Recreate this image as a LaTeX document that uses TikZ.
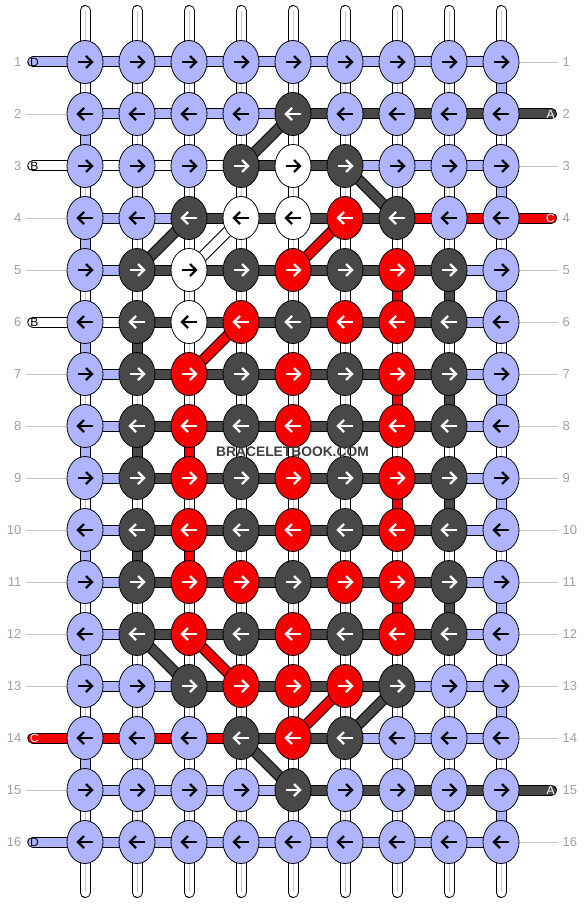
\documentclass[tikz,border=0pt]{standalone}
\usepackage{fontspec}
\setmainfont{Liberation Sans}
\usetikzlibrary{shapes.geometric}
\definecolor{L}{HTML}{AFB4FF}
\definecolor{D}{HTML}{484848}
\definecolor{R}{HTML}{F80000}
\definecolor{W}{HTML}{FFFFFF}
\colorlet{aL}{black}\colorlet{aW}{black}\colorlet{aD}{white}\colorlet{aR}{white}
\definecolor{lblgray}{HTML}{A0A0A0}
\definecolor{linegray}{HTML}{C4C4C4}
\definecolor{wmgray}{HTML}{404040}
\begin{document}
\begin{tikzpicture}[x=1pt,y=-1pt,
 bar/.style={line width=1pt, draw=black, double=#1, double distance=9pt},
 knot/.style={ellipse, draw=black, line width=0.8pt, fill=#1, minimum width=36pt, minimum height=43pt, inner sep=0pt},
 arr/.style={line width=2.4pt, draw=#1, line cap=butt, line join=miter},
 rownum/.style={font=\fontsize{13}{13}\selectfont, text=lblgray, inner sep=0pt},
 stubtxt/.style={font=\fontsize{12}{12}\selectfont, inner sep=0pt},
 guide/.style={draw=linegray, line width=0.8pt},
]
\useasboundingbox[fill=white] (0,0) rectangle (584,904);
% knot centres
\foreach \r in {1,...,16} \foreach \c in {1,...,9} {
  \coordinate (p-\r-\c) at ({85+52*(\c-1)},{62+52*(\r-1)});
}
% vertical white strings
\foreach \c in {1,...,9} {
  \coordinate (t-\c) at ({85+52*(\c-1)},10.5);
  \coordinate (b-\c) at ({85+52*(\c-1)},892.5);
  \draw[bar=white, line cap=round] (t-\c) -- (b-\c);
  \draw[linegray, line width=1pt, shorten <=1pt, shorten >=1pt] (t-\c) -- (b-\c);
}
% horizontal bars
\foreach \r/\hs in {1/{L,L,L,L,L,L,L,L}, 2/{L,L,L,L,D,D,D,D}, 3/{W,W,W,D,D,L,L,L},
  4/{L,L,D,D,D,D,R,R}, 5/{L,D,D,D,D,D,D,L}, 6/{W,D,D,D,D,D,D,L},
  7/{L,D,D,D,D,D,D,L}, 8/{L,D,D,D,D,D,D,L}, 9/{L,D,D,D,D,D,D,L},
  10/{L,D,D,D,D,D,D,L}, 11/{L,D,D,D,D,D,D,L}, 12/{L,D,D,D,D,D,D,L},
  13/{L,L,D,D,D,D,L,L}, 14/{R,R,R,D,D,L,L,L}, 15/{L,L,L,L,D,D,D,D},
  16/{L,L,L,L,L,L,L,L}} {
  \foreach \h [count=\c] in \hs {
    \pgfmathtruncatemacro\cn{\c+1}
    \draw[bar=\h] (p-\r-\c) -- (p-\r-\cn);
  }
}
% left stubs
\foreach \r/\col/\lab/\tc in {1/L/D/black, 3/W/B/black, 6/W/B/black, 14/R/C/white, 16/L/D/black} {
  \coordinate (ls-\r) at (32.8,{62+52*(\r-1)});
  \draw[bar=\col, line cap=round] (ls-\r) -- (p-\r-1);
  \node[stubtxt, text=\tc] (lst-\r) at (34.5,{62+52*(\r-1)}) {\lab};
}
% right stubs
\foreach \r/\col/\lab/\tc in {2/D/A/white, 4/R/C/white, 15/D/A/white} {
  \coordinate (rs-\r) at (551.5,{62+52*(\r-1)});
  \draw[bar=\col, line cap=round] (p-\r-9) -- (rs-\r);
  \node[stubtxt, text=\tc] (rst-\r) at (550.5,{62+52*(\r-1)}) {\lab};
}
% guide lines
\foreach \r in {2,4,5,7,8,9,10,11,12,13,15} {
  \coordinate (lg-\r) at (26,{62+52*(\r-1)});
  \draw[guide] (lg-\r) -- (p-\r-1);
}
\foreach \r in {1,3,5,6,7,8,9,10,11,12,13,14,16} {
  \coordinate (rg-\r) at (558,{62+52*(\r-1)});
  \draw[guide] (p-\r-9) -- (rg-\r);
}
% coloured vertical segments
\foreach \c/\r/\col in {1/2/L,1/4/L,1/6/L,1/8/L,1/10/L,1/12/L,1/14/L,
  9/1/L,9/3/L,9/5/L,9/7/L,9/9/L,9/11/L,9/13/L,9/15/L,
  2/6/D,2/8/D,2/10/D, 8/5/D,8/7/D,8/9/D,8/11/D,
  3/8/R,3/10/R, 7/5/R,7/7/R,7/9/R,7/11/R} {
  \pgfmathtruncatemacro\rn{\r+1}
  \draw[bar=\col] (p-\r-\c) -- (p-\rn-\c);
}
% diagonals
\foreach \ra/\ca/\rb/\cb/\col in {2/5/3/4/D, 3/6/4/7/D, 4/3/5/2/D, 4/4/5/3/W, 4/6/5/5/R,
  6/4/7/3/R, 12/2/13/3/D, 12/3/13/4/R, 13/6/14/5/R, 13/7/14/6/D, 14/4/15/5/D} {
  \draw[bar=\col] (p-\ra-\ca) -- (p-\rb-\cb);
}
% knots
\foreach \r/\ks in {1/{L,L,L,L,L,L,L,L,L}, 2/{L,L,L,L,D,L,L,L,L}, 3/{L,L,L,D,W,D,L,L,L},
  4/{L,L,D,W,W,R,D,L,L}, 5/{L,D,W,D,R,D,R,D,L}, 6/{L,D,W,R,D,R,R,D,L},
  7/{L,D,R,D,R,D,R,D,L}, 8/{L,D,R,D,R,D,R,D,L}, 9/{L,D,R,D,R,D,R,D,L},
  10/{L,D,R,D,R,D,R,D,L}, 11/{L,D,R,R,D,R,R,D,L}, 12/{L,D,R,D,R,D,R,D,L},
  13/{L,L,D,R,R,R,D,L,L}, 14/{L,L,L,D,R,D,L,L,L}, 15/{L,L,L,L,D,L,L,L,L},
  16/{L,L,L,L,L,L,L,L,L}} {
  \pgfmathtruncatemacro\dir{1-2*mod(\r+1,2)}
  \foreach \k [count=\c] in \ks {
    \node[knot=\k] (k-\r-\c) at (p-\r-\c) {};
    \begin{scope}[shift={(p-\r-\c)}, xscale=\dir]
      \draw[arr=a\k] (-7.5,0) -- (6.5,0);
      \draw[arr=a\k] (1,-6) -- (7,0) -- (1,6);
    \end{scope}
  }
}
% row numbers
\foreach \r in {1,...,16} {
  \node[rownum, anchor=east] (ln-\r) at (21.5,{62+52*(\r-1)}) {\r};
  \node[rownum, anchor=west] (rn-\r) at (562.5,{62+52*(\r-1)}) {\r};
}
% watermark
\node[font=\bfseries\fontsize{13.8}{14}\selectfont, text=wmgray, inner sep=0pt] (wm) at (292.5,452) {BRACELETBOOK.COM};
\end{tikzpicture}
\end{document}
